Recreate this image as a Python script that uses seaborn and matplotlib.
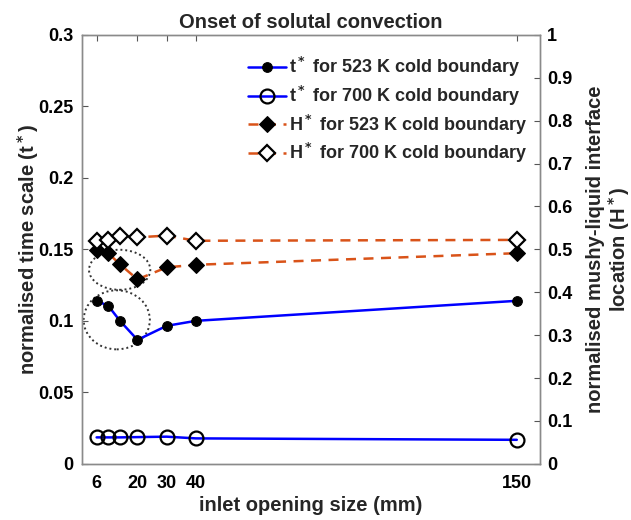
import numpy as np
import pandas as pd
import matplotlib
matplotlib.use("Agg")
import matplotlib.pyplot as plt
import seaborn as sns
from matplotlib.patches import Ellipse

# ---- data ----
inlet_size = [6, 10, 14, 20, 30, 40, 150]
t_523 = [0.114, 0.1105, 0.100, 0.0867, 0.0965, 0.100, 0.114]
t_700 = [0.0185, 0.0185, 0.0185, 0.0187, 0.019, 0.0178, 0.0168]
H_523 = [0.499, 0.491, 0.465, 0.430, 0.458, 0.464, 0.491]
H_700 = [0.520, 0.522, 0.531, 0.528, 0.532, 0.520, 0.522]
x_ticks = [6, 20, 30, 40, 150]
left_ticks = [0, 0.05, 0.1, 0.15, 0.2, 0.25, 0.3]
left_ticklabels = ["0", "0.05", "0.1", "0.15", "0.2", "0.25", "0.3"]
right_ticks = [0, 0.1, 0.2, 0.3, 0.4, 0.5, 0.6, 0.7, 0.8, 0.9, 1]
right_ticklabels = ["0", "0.1", "0.2", "0.3", "0.4", "0.5", "0.6", "0.7", "0.8", "0.9", "1"]
labels = ["t$^*$ for 523 K cold boundary", "t$^*$ for 700 K cold boundary",
          "H$^*$ for 523 K cold boundary", "H$^*$ for 700 K cold boundary"]

sns.set_style("white")
plt.rcParams["font.family"] = ["Liberation Sans", "DejaVu Sans"]
plt.rcParams["font.weight"] = "bold"
plt.rcParams["mathtext.default"] = "bf"

df = pd.DataFrame({"x": inlet_size, "t523": t_523, "t700": t_700,
                   "H523": H_523, "H700": H_700})

fig = plt.figure(figsize=(6.31, 5.2), dpi=100)
ax = fig.add_axes([0.130, 0.108, 0.726, 0.825])
ax2 = ax.twinx()

blue = "#0000FF"
orange = "#D95319"

sns.lineplot(data=df, x="x", y="t523", ax=ax, color=blue, lw=1.8,
             marker="o", markersize=7, markerfacecolor="black",
             markeredgecolor="black", label=labels[0], legend=False)
sns.lineplot(data=df, x="x", y="t700", ax=ax, color=blue, lw=1.8,
             marker="o", markersize=10, markerfacecolor="none",
             markeredgecolor="black", markeredgewidth=1.6, label=labels[1], legend=False)
sns.lineplot(data=df, x="x", y="H523", ax=ax2, color=orange, lw=1.8,
             linestyle=(0, (4, 3)), marker="D", markersize=8,
             markerfacecolor="black", markeredgecolor="black",
             label=labels[2], legend=False)
sns.lineplot(data=df, x="x", y="H700", ax=ax2, color=orange, lw=1.8,
             linestyle=(0, (4, 3)), marker="D", markersize=8,
             markerfacecolor="white", markeredgecolor="black", markeredgewidth=1.6,
             label=labels[3], legend=False)

# dotted ellipses
ax.add_patch(Ellipse((13.9, 0.1357), 21, 0.028, fill=False, ls=(0, (1, 1.5)),
                     lw=1.4, ec="#333333"))
ax.add_patch(Ellipse((12.9, 0.1007), 22.7, 0.0413, fill=False, ls=(0, (1, 1.5)),
                     lw=1.4, ec="#333333"))

ax.set_xlim(1, 158)
ax.set_ylim(0, 0.3)
ax2.set_ylim(0, 1)
ax.set_xticks(x_ticks)
ax.set_xticklabels([str(v) for v in x_ticks])
ax.set_yticks(left_ticks)
ax.set_yticklabels(left_ticklabels)
ax2.set_yticks(right_ticks)
ax2.set_yticklabels(right_ticklabels)

tfs = 13
lfs = 14.5
for a in (ax, ax2):
    a.tick_params(direction="in", length=4, width=0.8, colors="#555555",
                  labelcolor="black", labelsize=tfs)
    for s in a.spines.values():
        s.set_color("#8a8a8a")
        s.set_linewidth(1.0)
ax.tick_params(axis="y", right=False, pad=6)
ax.tick_params(axis="x", top=True, pad=8)
ax2.tick_params(axis="y", left=False, right=True, pad=5)

ax.set_xlabel("inlet opening size (mm)", fontsize=lfs, fontweight="bold", labelpad=3)
ax.set_ylabel("normalised time scale (t$^*$)", fontsize=lfs, fontweight="bold", labelpad=-2)
ax2.set_ylabel("normalised mushy-liquid interface\nlocation (H$^*$)", fontsize=lfs,
               fontweight="bold", labelpad=10, linespacing=1.05)
ax.set_title("Onset of solutal convection", fontsize=lfs, fontweight="bold", pad=5)

h1, l1 = ax.get_legend_handles_labels()
h2, l2 = ax2.get_legend_handles_labels()
leg = ax2.legend(h1 + h2, l1 + l2, loc="upper right", fontsize=13,
                 frameon=False, handlelength=2.1, handletextpad=0.15,
                 borderaxespad=0.0, borderpad=0.0, labelspacing=0.26,
                 bbox_to_anchor=(527 / 631, 1 - 55 / 520),
                 bbox_transform=fig.transFigure)

fig.savefig("out.png", dpi=100)
